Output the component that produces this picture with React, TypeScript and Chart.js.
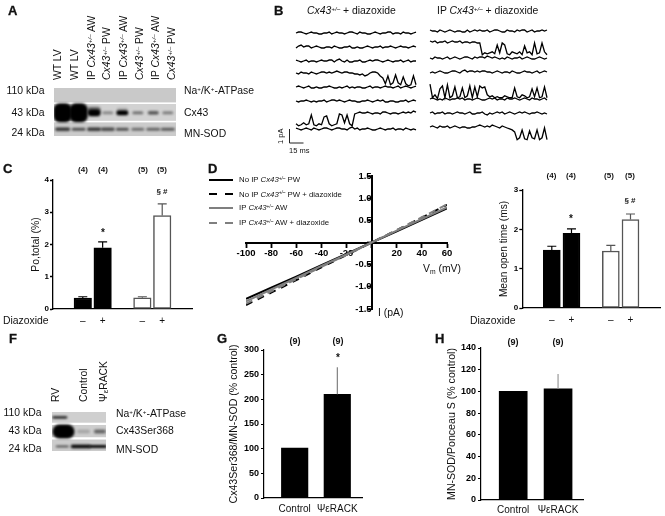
import React, { useEffect, useRef } from "react";
import { Chart, registerables } from "chart.js";

Chart.register(...registerables);

const FONT = "'Liberation Sans', Arial, sans-serif";
const INK = "#111";
Chart.defaults.font.family = FONT;
Chart.defaults.color = INK;

/* ---------- Panel C ---------- */
const cValues = [0.34, 1.9, 0.35, 2.9];
const cErrors = [0.04, 0.18, 0.03, 0.36];
const diazoxideLabels = ["–", "+", "–", "+"];
const groupSlots = [1, 2, 4, 5];

/* ---------- Panel E ---------- */
const eValues = [1.47, 1.9, 1.45, 2.25];
const eErrors = [0.1, 0.11, 0.14, 0.14];

/* ---------- Panel G / H ---------- */
const peptideLabels = ["Control", "ΨεRACK"];
const peptideSlots = [1, 2];
const gValues = [101, 210];
const gErrors = [0, 55];
const hValues = [100, 102.5];
const hErrors = [0, 13.5];

/* ---------- Panel D ---------- */
const vm = [-100, -80, -60, -40, -20, 0, 20, 40, 60];
const noIpPw = [-1.27, -1.02, -0.77, -0.51, -0.26, 0, 0.25, 0.51, 0.77];
const noIpPwDiazoxide = [-1.41, -1.13, -0.85, -0.56, -0.28, 0, 0.28, 0.56, 0.85];
const ipAw = [-1.33, -1.06, -0.8, -0.53, -0.27, 0, 0.27, 0.53, 0.79];
const ipAwDiazoxide = [-1.38, -1.1, -0.83, -0.55, -0.28, 0, 0.28, 0.57, 0.86];

/* ---------- Panel B: single channel traces, in units of 0.07 pA from baseline ---------- */
const TRACE_UNIT_PA = 0.07;
const traceL1 = [0,1,1,0,-1,0,1,0,0,-1,-1,0,0,1,-1,0,1,0,0,-1,0,1,1,0,-1,1,0,0,-1,-1,0,1,0,-1,0,0,1,1,-1,0,0,-1,1,0,0,-1,0,1];
const traceL2 = [-1,1,2,0,1,1,-1,0,1,0,-1,-1,0,0,-1,1,0,-1,-1,0,0,1,-1,-1,0,-1,-1,0,1,0,-1,0,0,1,-1,0,0,1,0,-1,0,1,0,0,-1,0,1,0];
const traceL3 = [1,0,-1,0,1,-1,0,0,-1,0,1,0,0,1,1,-1,1,2,0,-1,1,-1,-1,0,0,1,-1,-1,0,1,0,1,1,0,-1,0,1,0,-1,0,0,1,-1,0,1,-1,0,0];
const traceL4 = [0,-1,1,0,0,-1,1,0,-1,0,1,1,0,1,0,1,2,1,0,1,1,0,0,-1,-1,-2,-1,-3,-2,0,1,1,0,-3,-5,-11,-3,-12,-10,-2,-10,-12,-4,-11,-13,-12,-3,-12];
const traceL5 = [0,1,0,-1,0,1,-1,-1,0,-1,-1,0,0,1,0,-1,-1,0,-1,0,1,-1,0,-1,0,0,-1,-1,0,1,-1,0,0,-1,0,1,0,0,-1,0,1,-1,0,1,0,-1,0,1];
const traceL6 = [0,-1,0,0,1,0,-1,0,-1,0,0,1,-1,0,1,1,0,1,0,-1,0,1,0,0,-1,-1,0,0,1,0,-1,0,1,0,1,-1,-1,0,0,-1,-1,0,0,1,-1,0,1,0];
const traceL7 = [-11,-13,-12,-10,-12,-11,-2,-12,-13,-11,-12,-4,-3,-11,-13,-12,-11,-1,-2,-10,-2,-11,-13,-1,0,1,0,0,1,0,-1,0,0,-1,1,1,0,-1,0,0,-1,0,1,0,1,0,2,1];
const traceL8 = [1,0,-1,0,1,0,-1,1,0,-1,0,1,1,0,-1,0,1,1,0,0,-1,1,2,0,1,-1,0,0,1,0,-1,-1,0,1,0,-1,0,0,1,-1,0,0,-1,1,0,-1,0,-1];
const traceR1 = [1,0,0,-1,1,0,-1,0,1,0,-1,0,0,-1,-1,1,-1,0,1,0,1,0,0,1,-1,0,1,1,0,-1,-1,1,0,0,-1,1,0,1,1,-1,0,1,-1,0,0,1,0,1];
const traceR2 = [1,0,1,-1,0,0,1,-1,0,1,0,0,1,-1,0,0,-1,0,0,-1,-1,-13,-11,-12,-11,-10,-12,-3,-11,-1,-3,-12,-13,-10,-11,-12,-10,-13,-4,-11,-10,-13,-1,-12,-11,-1,-10,-13];
const traceR3 = [0,-1,1,0,0,-1,0,1,-1,0,1,0,-1,0,1,1,0,-1,1,0,1,1,0,2,1,0,1,0,-1,0,-1,1,0,-1,0,0,1,-1,0,1,0,-1,-1,0,1,0,-1,0];
const traceR4 = [-1,0,-1,0,1,0,-1,-1,0,1,1,0,-1,1,2,0,1,1,0,1,0,1,1,0,0,-1,0,1,0,-1,0,0,-1,1,0,-1,-1,0,1,0,0,-1,0,1,-1,0,1,0];
const traceR5 = [1,-13,-10,-14,-4,-1,-13,0,-13,-11,-2,-13,-12,-3,-13,-11,-1,-13,-2,-12,-1,-3,-2,-10,-12,-11,-13,-12,-13,-13,-11,-12,-13,-13,-3,-12,-13,-10,-11,-13,-12,-4,-12,-3,-13,-12,-2,-13];
const traceR6 = [0,1,0,-1,0,-1,1,0,-1,0,0,1,0,1,-1,0,0,-1,0,1,0,-1,-1,0,1,0,1,-1,0,0,-1,1,0,0,1,0,-1,0,1,0,-1,1,0,0,-1,0,1,-1];
const traceR7 = [0,1,-1,0,0,1,-1,0,0,-1,0,1,0,0,-1,0,1,-1,-1,0,0,1,-1,-2,0,-1,0,1,0,1,-1,0,1,0,-1,0,1,0,1,0,-1,0,0,1,0,-1,0,-1];
const traceR8 = [0,1,0,-1,1,0,0,1,-1,0,1,0,-1,0,0,-1,-1,0,0,1,2,1,0,1,0,2,1,0,-1,1,0,-1,-2,-3,-5,-13,-11,-3,-12,-13,-4,-11,-12,-3,-13,-11,-1,-13];
const leftTraces = [traceL1, traceL2, traceL3, traceL4, traceL5, traceL6, traceL7, traceL8];
const rightTraces = [traceR1, traceR2, traceR3, traceR4, traceR5, traceR6, traceR7, traceR8];
const leftBaselinesPx = [33, 47, 61, 73, 87, 101, 113, 129];
const rightBaselinesPx = [31, 42, 58, 72, 85, 99, 113, 127];

/* ---------- Panels A / F: band densities (0..1) ---------- */
const aCx43 = [1, 1, 1, 0.35, 1, 0.45, 0.6, 0.4];
const aCx43Smear = [0, 0, 0.45, 0, 0.15, 0, 0, 0];
const aMnSod = [0.75, 0.6, 0.75, 0.65, 0.6, 0.45, 0.5, 0.55];
const fNaK = [0.85];
const fCx43Ser368 = [1, 0.2, 0.5];
const fMnSod = [0.6, 1, 0.95];

/* ---------- Layout ---------- */
const aLanes = [9.5, 27, 44, 59, 75, 92, 109, 125];
const aBlot = {
  rect: { x: 48, y: 82, w: 134, h: 60 },
  rows: [
    { top: 0, bottom: 18, color: "#c9c9c9" },
    { top: 20, bottom: 41, color: "#d2d2d2" },
    { top: 43, bottom: 60, color: "#cbcbcb" },
  ],
  bands: [
    { xs: aLanes, y: 27, values: aCx43Smear, w: [0, 0, 13, 0, 11, 0, 0, 0], h: [0, 0, 6, 0, 4, 0, 0, 0] },
    { xs: aLanes, y: 31, values: aCx43, w: [18, 18, 13, 11, 12, 11, 11, 11], h: [19, 19, 7, 3, 5, 3, 3.5, 3] },
    { xs: aLanes, y: 51.5, values: aMnSod, w: [15, 14, 14, 14, 13, 13, 14, 14], h: [3.5, 3, 3.5, 3.5, 3, 3, 3, 3] },
  ],
};
const fBlot = {
  rect: { x: 46, y: 406, w: 66, h: 51 },
  rows: [
    { top: 0, bottom: 14, color: "#cfcfcf" },
    { top: 17, bottom: 33, color: "#cdcdcd" },
    { top: 36, bottom: 51, color: "#cbcbcb" },
  ],
  bands: [
    { xs: [9.5], y: 7, values: fNaK, w: [15], h: [2.5] },
    { xs: [14, 38.5, 58.5], y: 25.5, values: fCx43Ser368, w: [22, 13, 12], h: [14, 3.5, 4] },
    { xs: [12.5, 35, 56], y: 45, values: fMnSod, w: [13, 20, 18], h: [2, 3.5, 3] },
  ],
};

function bandSprite(density: number, w: number, h: number) {
  const c = document.createElement("canvas");
  c.width = Math.ceil(w + 8);
  c.height = Math.ceil(h + 8);
  const g = c.getContext("2d")!;
  g.filter = "blur(1px)";
  g.fillStyle = `rgba(0,0,0,${density})`;
  if (density > 0 && w > 0) {
    g.beginPath();
    g.roundRect((c.width - w) / 2, (c.height - h) / 2, w, h, Math.min(h / 2, w / 3));
    g.fill();
  }
  return c;
}

function blotConfig(b: typeof aBlot) {
  const bgPlugin = {
    id: "rows",
    beforeDatasetsDraw(chart: any) {
      const { ctx, scales } = chart;
      b.rows.forEach((r) => {
        const y0 = scales.y.getPixelForValue(r.top);
        const y1 = scales.y.getPixelForValue(r.bottom);
        ctx.fillStyle = r.color;
        ctx.fillRect(scales.x.left, y0, scales.x.width, y1 - y0);
      });
    },
  };
  return {
    frame: b.rect,
    config: {
      type: "scatter",
      data: {
        datasets: b.bands.map((band) => {
          const sprites = band.values.map((v, i) => bandSprite(v, band.w[i], band.h[i]));
          return {
            data: band.xs.map((x) => ({ x, y: band.y })),
            pointRadius: 5,
            pointStyle: (ctx: any) => sprites[ctx.dataIndex],
          };
        }),
      },
      options: {
        responsive: false,
        animation: false,
        events: [],
        layout: { padding: 0 },
        plugins: { legend: { display: false }, tooltip: { enabled: false } },
        scales: {
          x: { type: "linear", display: false, min: 0, max: b.rect.w },
          y: { type: "linear", display: false, min: 0, max: b.rect.h, reverse: true },
        },
      },
      plugins: [bgPlugin],
    },
  };
}

const PAD = 8;

function barConfig(p: any) {
  const { l, t, r, b } = p.plot;
  const frame = {
    x: l - p.yW - PAD,
    y: t - PAD,
    w: r - l + p.yW + 2 * PAD,
    h: b - t + p.xH + 2 * PAD,
  };
  const errorPlugin = {
    id: "errs",
    afterDatasetsDraw(chart: any) {
      const { ctx, scales } = chart;
      const meta = chart.getDatasetMeta(0);
      p.errors.forEach((e: number, i: number) => {
        if (!e) return;
        const x = meta.data[i].x;
        const y0 = scales.y.getPixelForValue(p.values[i]);
        const y1 = scales.y.getPixelForValue(p.values[i] + e);
        ctx.save();
        ctx.strokeStyle = p.errColors[i];
        ctx.lineWidth = p.errWidth;
        ctx.beginPath();
        ctx.moveTo(x, y0);
        ctx.lineTo(x, y1);
        if (p.cap) {
          ctx.moveTo(x - p.cap / 2, y1);
          ctx.lineTo(x + p.cap / 2, y1);
        }
        ctx.stroke();
        ctx.restore();
      });
    },
  };
  return {
    frame,
    config: {
      type: "bar",
      data: {
        datasets: [
          {
            data: p.values.map((v: number, i: number) => ({ x: p.slots[i], y: v })),
            backgroundColor: p.fills,
            borderColor: p.borders,
            borderWidth: p.borderWidth,
            borderSkipped: false,
            barThickness: p.barWidth,
          },
        ],
      },
      options: {
        responsive: false,
        animation: false,
        events: [],
        layout: { padding: PAD },
        plugins: { legend: { display: false }, tooltip: { enabled: false } },
        scales: {
          x: {
            type: "linear",
            offset: false,
            min: p.xRange[0],
            max: p.xRange[1],
            afterFit: (s: any) => { s.height = p.xH; },
            afterBuildTicks: (s: any) => { s.ticks = p.slots.map((v: number) => ({ value: v })); },
            grid: { display: false, drawTicks: false, offset: false },
            border: { display: true, color: "#000", width: p.axisWidth },
            ticks: {
              autoSkip: false,
              maxRotation: 0,
              padding: p.xPad,
              color: INK,
              font: { size: p.xSize },
              callback: (v: number) => p.xLabels[p.slots.indexOf(v)],
            },
          },
          y: {
            min: 0,
            max: p.yMax,
            afterFit: (s: any) => { s.width = p.yW; },
            grid: { display: true, drawOnChartArea: false, drawTicks: true, tickLength: 3, tickColor: "#000", tickWidth: p.axisWidth },
            border: { display: true, color: "#000", width: p.axisWidth },
            ticks: { stepSize: p.yStep, padding: p.yPad, color: "#000", font: { size: p.tickSize, weight: "bold" } },
            title: { display: true, text: p.yTitle, color: INK, padding: 0, font: { size: p.titleSize } },
          },
        },
      },
      plugins: [errorPlugin],
    },
  };
}

const BLACK = "#000";
const DGRAY = "#555";
const WHITE = "#fff";
const groupFills = [BLACK, BLACK, WHITE, WHITE];
const groupBorders = [BLACK, BLACK, DGRAY, DGRAY];

function panelC() {
  return barConfig({
    plot: { l: 53, t: 179.7, r: 192, b: 308.3 }, yW: 23, xH: 22,
    values: cValues, errors: cErrors, slots: groupSlots, xLabels: diazoxideLabels,
    xRange: [-0.5, 6.5], yMax: 4, yStep: 1, yTitle: "Po,total (%)", titleSize: 10.4, xSize: 10,
    fills: groupFills, borders: groupBorders, borderWidth: 1.5, barWidth: 17.5,
    errColors: [BLACK, BLACK, DGRAY, DGRAY], errWidth: 1.2, cap: 9, axisWidth: 1.3, tickSize: 8, xPad: 6, yPad: 1,
  });
}
function panelE() {
  return barConfig({
    plot: { l: 522.3, t: 190, r: 660, b: 308.3 }, yW: 24.3, xH: 22,
    values: eValues, errors: eErrors, slots: groupSlots, xLabels: diazoxideLabels,
    xRange: [-0.5, 6.5], yMax: 3, yStep: 1, yTitle: "Mean open time (ms)", titleSize: 10.2, xSize: 10,
    fills: groupFills, borders: groupBorders, borderWidth: 1.5, barWidth: 17,
    errColors: [BLACK, BLACK, DGRAY, DGRAY], errWidth: 1.2, cap: 9, axisWidth: 1.3, tickSize: 8, xPad: 6, yPad: 1,
  });
}
function panelG() {
  return barConfig({
    plot: { l: 264.3, t: 350, r: 362.7, b: 497.7 }, yW: 36, xH: 18,
    values: gValues, errors: gErrors, slots: peptideSlots, xLabels: peptideLabels,
    xRange: [0.28, 2.58], yMax: 300, yStep: 50, yTitle: "Cx43Ser368/MN-SOD (% control)", titleSize: 10.6, xSize: 10,
    fills: [BLACK, BLACK], borders: [BLACK, BLACK], borderWidth: 0, barWidth: 26.5,
    errColors: ["#666", "#666"], errWidth: 1, cap: 0, axisWidth: 1.2, tickSize: 9, xPad: 5, yPad: 2,
  });
}
function panelH() {
  return barConfig({
    plot: { l: 480.7, t: 347.7, r: 583, b: 499.3 }, yW: 35, xH: 18,
    values: hValues, errors: hErrors, slots: peptideSlots, xLabels: peptideLabels,
    xRange: [0.282, 2.556], yMax: 140, yStep: 20, yTitle: "MN-SOD/Ponceau S (% control)", titleSize: 10.6, xSize: 10,
    fills: [BLACK, BLACK], borders: [BLACK, BLACK], borderWidth: 0, barWidth: 28,
    errColors: ["#999", "#999"], errWidth: 1.2, cap: 0, axisWidth: 1.2, tickSize: 9, xPad: 4, yPad: 2,
  });
}

function panelD() {
  const pad = 20;
  const l = 246, r = 447, t = 176, b = 309.3;
  const line = (values: number[], color: string, dash: number[], order: number) => ({
    data: vm.map((x, i) => ({ x, y: values[i] })),
    borderColor: color,
    borderWidth: 2,
    borderDash: dash,
    pointRadius: 0,
    showLine: true,
    fill: false,
    tension: 0,
    order,
  });
  return {
    frame: { x: l - pad, y: t - pad, w: r - l + 2 * pad, h: b - t + 2 * pad },
    config: {
      type: "scatter",
      data: {
        datasets: [
          line(noIpPw, "#000", [], 3),
          line(noIpPwDiazoxide, "#000", [7, 6], 2),
          line(ipAw, "#7f7f7f", [], 0),
          line(ipAwDiazoxide, "#7f7f7f", [7, 5], 1),
        ],
      },
      options: {
        responsive: false,
        animation: false,
        events: [],
        layout: { padding: pad },
        plugins: { legend: { display: false }, tooltip: { enabled: false } },
        scales: {
          x: {
            type: "linear",
            position: { y: 0 },
            min: -100,
            max: 60,
            grid: { display: true, drawOnChartArea: false, drawTicks: true, tickLength: 4, tickColor: "#000", tickWidth: 1.8 },
            border: { display: true, color: "#000", width: 2 },
            ticks: {
              stepSize: 20,
              padding: 1,
              maxRotation: 0,
              color: "#000",
              font: { size: 9.5, weight: "bold" },
              callback: (v: number) => (v === 0 ? "" : String(v)),
            },
          },
          y: {
            type: "linear",
            position: { x: 0 },
            min: -1.5,
            max: 1.5,
            grid: { display: true, drawOnChartArea: false, drawTicks: true, tickLength: 4, tickColor: "#000", tickWidth: 1.8 },
            border: { display: true, color: "#000", width: 2 },
            ticks: {
              stepSize: 0.5,
              padding: 1,
              color: "#000",
              font: { size: 9.5, weight: "bold" },
              callback: (v: number) => (v === 0 ? "" : v.toFixed(1)),
            },
          },
        },
      },
    },
  };
}

function panelB() {
  const frame = { x: 280, y: 20, w: 280, h: 130 };
  const pxPerMs = 14 / 15;
  const pxPerPa = 14;
  const toMs = (px: number) => (px - frame.x) / pxPerMs;
  const toPa = (px: number) => (frame.y + frame.h - px) / pxPerPa;
  const trace = (values: number[], basePx: number, startPx: number, endPx: number) => ({
    data: values.map((v, i) => ({
      x: toMs(startPx + ((endPx - startPx) * i) / (values.length - 1)),
      y: toPa(basePx) + v * TRACE_UNIT_PA,
    })),
    borderColor: "#000",
    borderWidth: 1.3,
    pointRadius: 0,
    showLine: true,
    tension: 0,
  });
  const barX = toMs(289.5);
  const barY = toPa(143);
  return {
    frame,
    config: {
      type: "scatter",
      data: {
        datasets: [
          ...leftTraces.map((v, i) => trace(v, leftBaselinesPx[i], 296, 416)),
          ...rightTraces.map((v, i) => trace(v, rightBaselinesPx[i], 430, 547)),
          {
            data: [{ x: barX, y: barY + 1 }, { x: barX, y: barY }, { x: barX + 15, y: barY }],
            borderColor: "#222",
            borderWidth: 1,
            pointRadius: 0,
            showLine: true,
            tension: 0,
          },
        ],
      },
      options: {
        responsive: false,
        animation: false,
        events: [],
        layout: { padding: 0 },
        plugins: { legend: { display: false }, tooltip: { enabled: false } },
        scales: {
          x: { type: "linear", display: false, min: 0, max: frame.w / pxPerMs },
          y: { type: "linear", display: false, min: 0, max: frame.h / pxPerPa },
        },
      },
    },
  };
}

function T({ x, y, s = 10.4, b, rot, al = "left", w, children }: any) {
  const transform = rot
    ? "rotate(-90deg) translateY(-50%)"
    : `translate(${al === "center" ? "-50%" : al === "right" ? "-100%" : "0"},-50%)`;
  return (
    <div
      style={{
        position: "absolute",
        left: x,
        top: y,
        fontSize: s,
        fontWeight: b ? "bold" : "normal",
        whiteSpace: "nowrap",
        lineHeight: 1,
        transform,
        transformOrigin: "0 0",
        color: INK,
        WebkitTextStroke: w ? `${w}px ${INK}` : undefined,
      }}
    >
      {children}
    </div>
  );
}

const S = ({ children }: any) => (
  <span style={{ fontSize: "0.6em", position: "relative", top: "-0.45em" }}>{children}</span>
);
const Het = () => (
  <i>
    Cx43<S>+/–</S>
  </i>
);
const NaK = () => (
  <>
    Na<S>+</S>/K<S>+</S>-ATPase
  </>
);
const Psi = () => (
  <>
    Ψ<span style={{ fontSize: "0.75em", position: "relative", top: "0.1em" }}>ε</span>RACK
  </>
);

const L = ({ x, y, children }: any) => (
  <T x={x} y={y} b s={13} w={0.3}>
    {children}
  </T>
);

function LegendKey({ y, color, dashed }: any) {
  return (
    <svg style={{ position: "absolute", left: 209, top: y - 2, width: 24, height: 4 }}>
      <line x1="0" x2="24" y1="2" y2="2" stroke={color} strokeWidth="2" strokeDasharray={dashed ? "8 8" : undefined} />
    </svg>
  );
}

const laneXs = [58, 75, 92, 107, 124, 140, 156, 172];

export default function App() {
  const refs = useRef<(HTMLCanvasElement | null)[]>([]);
  const panels = useRef<any[] | null>(null);
  if (!panels.current && typeof document !== "undefined") {
    panels.current = [
      blotConfig(aBlot), blotConfig(fBlot), panelB(), panelC(), panelD(), panelE(), panelG(), panelH(),
    ];
  }
  useEffect(() => {
    const charts = panels.current!.map((p, i) => new Chart(refs.current[i]!, p.config as any));
    return () => charts.forEach((c) => c.destroy());
  }, []);

  return (
    <div
      style={{
        position: "absolute", left: 0, top: 0, width: 665, height: 516, overflow: "hidden",
        background: "#fff", fontFamily: FONT, filter: "blur(0.3px)",
      }}
    >
      {panels.current!.map((p, i) => (
        <canvas
          key={i}
          ref={(el) => { refs.current[i] = el; }}
          width={Math.round(p.frame.w)}
          height={Math.round(p.frame.h)}
          style={{ position: "absolute", left: p.frame.x, top: p.frame.y, width: Math.round(p.frame.w), height: Math.round(p.frame.h) }}
        />
      ))}

      <div style={{ position: "absolute", left: 0, top: 0, width: 665, height: 516, transform: "translateZ(0)" }}>
        {/* Panel letters */}
        <L x={8} y={10}>A</L>
        <L x={274} y={10}>B</L>
        <L x={3} y={168}>C</L>
        <L x={208} y={168}>D</L>
        <L x={473} y={168}>E</L>
        <L x={9} y={338}>F</L>
        <L x={217} y={338}>G</L>
        <L x={435} y={338}>H</L>

        {/* Panel A */}
        <T x={laneXs[0]} y={80} rot>WT LV</T>
        <T x={laneXs[1]} y={80} rot>WT LV</T>
        <T x={laneXs[2]} y={80} rot>IP <Het /> AW</T>
        <T x={laneXs[3]} y={80} rot><Het /> PW</T>
        <T x={laneXs[4]} y={80} rot>IP <Het /> AW</T>
        <T x={laneXs[5]} y={80} rot><Het /> PW</T>
        <T x={laneXs[6]} y={80} rot>IP <Het /> AW</T>
        <T x={laneXs[7]} y={80} rot><Het /> PW</T>
        <T x={44.5} y={91} al="right">110 kDa</T>
        <T x={44.5} y={112.5} al="right">43 kDa</T>
        <T x={44.5} y={133} al="right">24 kDa</T>
        <T x={184} y={91}><NaK /></T>
        <T x={184} y={113}>Cx43</T>
        <T x={184} y={133.5}>MN-SOD</T>

        {/* Panel B */}
        <T x={307} y={11}><Het /> + diazoxide</T>
        <T x={437} y={11}>IP <Het /> + diazoxide</T>
        <T x={281} y={144} rot s={7.5}>1 pA</T>
        <T x={289} y={151} s={7.5}>15 ms</T>

        {/* Panel C */}
        <T x={3} y={321}>Diazoxide</T>
        <T x={83} y={170} al="center" s={8} b>(4)</T>
        <T x={103} y={170} al="center" s={8} b>(4)</T>
        <T x={143} y={170} al="center" s={8} b>(5)</T>
        <T x={162} y={170} al="center" s={8} b>(5)</T>
        <T x={103} y={233} al="center" s={10} b>*</T>
        <T x={162} y={192} al="center" s={8} b>§ #</T>

        {/* Panel D */}
        <LegendKey y={180} color="#000" />
        <LegendKey y={194} color="#000" dashed />
        <LegendKey y={208} color="#7f7f7f" />
        <LegendKey y={223} color="#7f7f7f" dashed />
        <T x={239} y={180} s={7.8}>No IP <Het /> PW</T>
        <T x={239} y={194.5} s={7.8}>No IP <Het /> PW + diazoxide</T>
        <T x={239} y={208} s={7.8}>IP <Het /> AW</T>
        <T x={239} y={223} s={7.8}>IP <Het /> AW + diazoxide</T>
        <T x={423} y={269}>
          V<span style={{ fontSize: "0.65em", position: "relative", top: "0.25em" }}>m</span> (mV)
        </T>
        <T x={378} y={313}>I (pA)</T>

        {/* Panel E */}
        <T x={470} y={321}>Diazoxide</T>
        <T x={551.5} y={176} al="center" s={8} b>(4)</T>
        <T x={571} y={176} al="center" s={8} b>(4)</T>
        <T x={609} y={176} al="center" s={8} b>(5)</T>
        <T x={630} y={176} al="center" s={8} b>(5)</T>
        <T x={571} y={219} al="center" s={10} b>*</T>
        <T x={630} y={201} al="center" s={8} b>§ #</T>

        {/* Panel F */}
        <T x={56} y={402} rot>RV</T>
        <T x={84} y={402} rot>Control</T>
        <T x={104} y={402} rot><Psi /></T>
        <T x={41.5} y={413} al="right">110 kDa</T>
        <T x={41.5} y={431} al="right">43 kDa</T>
        <T x={41.5} y={449} al="right">24 kDa</T>
        <T x={116} y={413.5}><NaK /></T>
        <T x={116} y={430.5}>Cx43Ser368</T>
        <T x={116} y={449.5}>MN-SOD</T>

        {/* Panel G */}
        <T x={295} y={341} al="center" s={9} b>(9)</T>
        <T x={338} y={341} al="center" s={9} b>(9)</T>
        <T x={338} y={358} al="center" s={10} b>*</T>

        {/* Panel H */}
        <T x={513} y={342} al="center" s={9} b>(9)</T>
        <T x={558} y={342} al="center" s={9} b>(9)</T>
      </div>
    </div>
  );
}
